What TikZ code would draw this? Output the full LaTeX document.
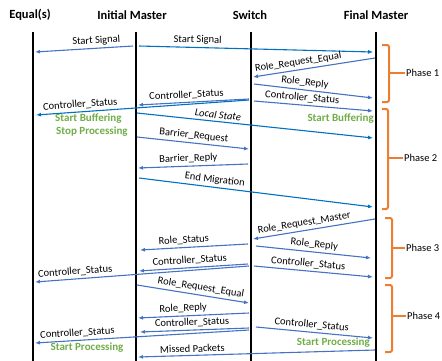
\documentclass[tikz,border=0pt]{standalone}
\usepackage{fontspec}
\setmainfont{Carlito}
\usetikzlibrary{arrows.meta}
\definecolor{blueA}{HTML}{4472C4}
\definecolor{blueB}{HTML}{0070C0}
\definecolor{grn}{HTML}{70AD47}
\definecolor{org}{HTML}{ED7D31}
\tikzset{
  life/.style={line width=2pt, black},
  msg/.style={line width=1.1pt, blueA, -{Latex[length=5pt,width=4pt]}},
  msgd/.style={msg, blueB},
  lbl/.style={sloped, above=2pt, inner sep=0.5pt, text=black, font=\fontsize{10.5}{12}\selectfont},
  hdr/.style={font=\bfseries\fontsize{12.5}{15}\selectfont, inner sep=0pt},
  gtxt/.style={text=grn, font=\bfseries\fontsize{11}{13}\selectfont, inner sep=0pt},
  brk/.style={org, line width=2pt, rounded corners=2pt},
  brkt/.style={org, line width=1.6pt},
  ph/.style={font=\fontsize{10.5}{12}\selectfont, inner sep=0pt, anchor=west}
}
\begin{document}
\begin{tikzpicture}[x=1pt,y=-1pt]
\useasboundingbox (0,0) rectangle (442,360);
% headers
\node[hdr] (hE) at (30,15) {Equal(s)};
\node[hdr] (hI) at (132,15) {Initial Master};
\node[hdr] (hS) at (250,15) {Switch};
\node[hdr] (hF) at (376,15) {Final Master};
% lifelines
\coordinate (Et) at (33,32); \coordinate (Eb) at (33,361);
\coordinate (It) at (136,32); \coordinate (Ib) at (136,361);
\coordinate (St) at (251,32); \coordinate (Sb) at (251,361);
\coordinate (Ft) at (376,32); \coordinate (Fb) at (376,361);
\draw[life] (Et) -- (Eb);
\draw[life] (It) -- (Ib);
\draw[life] (St) -- (Sb);
\draw[life] (Ft) -- (Fb);
% messages
\coordinate (a1) at (133,46); \coordinate (b1) at (35,52);
\draw[msg] (a1) -- node[lbl,pos=0.37] {Start Signal} (b1);
\coordinate (a2) at (139,46); \coordinate (b2) at (373,52);
\draw[msgd] (a2) -- node[lbl,pos=0.25] {Start Signal} (b2);
\coordinate (a3) at (375,58); \coordinate (b3) at (253,77);
\draw[msg] (a3) -- node[lbl,pos=0.62] {Role\_Request\_Equal} (b3);
\coordinate (a4) at (254,84); \coordinate (b4) at (373,98);
\draw[msg] (a4) -- node[lbl,pos=0.42] {Role\_Reply} (b4);
\coordinate (a5) at (254,101); \coordinate (b5) at (373,111);
\draw[msg] (a5) -- node[lbl,pos=0.4] {Controller\_Status} (b5);
\coordinate (a6) at (249,99); \coordinate (b6) at (138,105);
\draw[msg] (a6) -- node[lbl,pos=0.56] {Controller\_Status} (b6);
\coordinate (a7) at (249,100); \coordinate (b7) at (36,115);
\draw[msgd] (a7) -- node[lbl,pos=0.79] {Controller\_Status} (b7);
\coordinate (a8) at (137,113); \coordinate (b8) at (373,138);
\draw[msgd] (a8) -- node[lbl,pos=0.34] {\itshape Local State} (b8);
\coordinate (a9) at (137,137); \coordinate (b9) at (249,149);
\draw[msg] (a9) -- node[lbl,pos=0.5] {Barrier\_Request} (b9);
\coordinate (a10) at (248,164); \coordinate (b10) at (138,168);
\draw[msg] (a10) -- node[lbl,pos=0.54] {Barrier\_Reply} (b10);
\coordinate (a11) at (139,178); \coordinate (b11) at (373,207);
\draw[msgd] (a11) -- node[lbl,pos=0.32] {End Migration} (b11);
\coordinate (a12) at (375,219); \coordinate (b12) at (253,239);
\draw[msg] (a12) -- node[lbl,pos=0.57] {Role\_Request\_Master} (b12);
\coordinate (a13) at (248,244); \coordinate (b13) at (140,250);
\draw[msg] (a13) -- node[lbl,pos=0.59] {Role\_Status} (b13);
\coordinate (a14) at (256,246); \coordinate (b14) at (371,258);
\draw[msg] (a14) -- node[lbl,pos=0.5] {Role\_Reply} (b14);
\coordinate (a15) at (248,264); \coordinate (b15) at (139,271);
\draw[msg] (a15) -- node[lbl,pos=0.53] {Controller\_Status} (b15);
\coordinate (a16) at (249,266); \coordinate (b16) at (35,282);
\draw[msg] (a16) -- node[lbl,pos=0.81] {Controller\_Status} (b16);
\coordinate (a17) at (254,266); \coordinate (b17) at (373,277);
\draw[msg] (a17) -- node[lbl,pos=0.45] {Controller\_Status} (b17);
\coordinate (a18) at (137,285); \coordinate (b18) at (249,303);
\draw[msg] (a18) -- node[lbl,pos=0.56] {Role\_Request\_Equal} (b18);
\coordinate (a19) at (249,313); \coordinate (b19) at (138,318);
\draw[msg] (a19) -- node[lbl,pos=0.59] {Role\_Reply} (b19);
\coordinate (a20) at (249,328); \coordinate (b20) at (140,332);
\draw[msg] (a20) -- node[lbl,pos=0.52] {Controller\_Status} (b20);
\coordinate (a21) at (249,330); \coordinate (b21) at (35,343);
\draw[msg] (a21) -- node[lbl,pos=0.8] {Controller\_Status} (b21);
\coordinate (a22) at (256,327); \coordinate (b22) at (373,338);
\draw[msg] (a22) -- node[lbl,pos=0.47] {Controller\_Status} (b22);
\coordinate (a23) at (375,350); \coordinate (b23) at (138,357);
\draw[msg] (a23) -- node[lbl,pos=0.77] {Missed Packets} (b23);
% green annotations
\node[gtxt,anchor=west] (g1) at (55,119) {Start Buffering};
\node[gtxt,anchor=west] (g2) at (56,132) {Stop Processing};
\node[gtxt,anchor=east] (g3) at (374,119) {Start Buffering};
\node[gtxt,anchor=east] (g4) at (370,343) {Start Processing};
\node[gtxt] (g5) at (87,348) {Start Processing};
% phase brackets
\draw[brk] (382,45) -- (389,45) -- (389,102) -- (382,102);
\draw[brkt] (389,73) -- (405,73);
\node[ph] (p1) at (406,73) {Phase 1};
\draw[brk] (382,109) -- (388,109) -- (388,209) -- (382,209);
\draw[brkt] (388,158) -- (403,158);
\node[ph] (p2) at (404,158) {Phase 2};
\draw[brk] (385,218) -- (392,218) -- (392,278) -- (385,278);
\draw[brkt] (392,248) -- (405,248);
\node[ph] (p3) at (406,248) {Phase 3};
\draw[brk] (385,285) -- (392,285) -- (392,352) -- (385,352);
\draw[brkt] (392,316) -- (406,316);
\node[ph] (p4) at (407,316) {Phase 4};
\end{tikzpicture}
\end{document}
